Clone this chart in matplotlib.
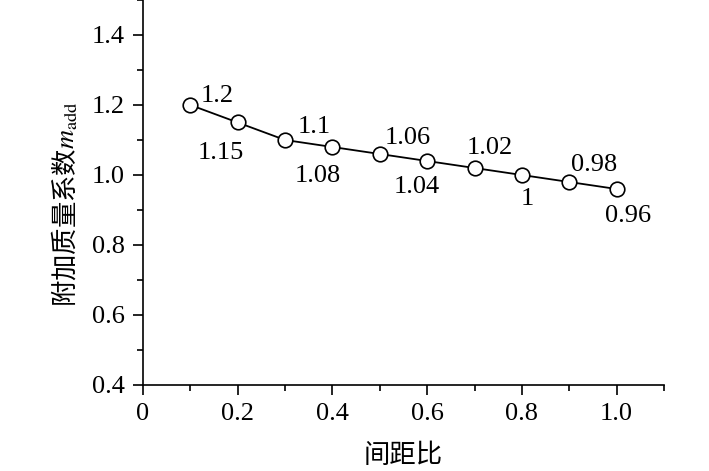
import matplotlib
matplotlib.use("Agg")
import matplotlib.pyplot as plt
from matplotlib.ticker import MultipleLocator

plt.rcParams["font.family"] = ["Liberation Serif", "Noto Sans CJK SC"]
plt.rcParams["mathtext.fontset"] = "stix"

spacing = [0.1, 0.2, 0.3, 0.4, 0.5, 0.6, 0.7, 0.8, 0.9, 1.0]
m_add = [1.20, 1.15, 1.10, 1.08, 1.06, 1.04, 1.02, 1.00, 0.98, 0.96]
labels = ["1.2", "1.15", "1.1", "1.08", "1.06", "1.04", "1.02", "1", "0.98", "0.96"]
# label offsets in pixels (left edge / baseline relative to the marker)
offsets = [(10, 3), (-40, -37), (13, 7), (-38, -35), (5, 10),
           (-34, -32), (-8, 14), (-1, -30), (2, 11), (-12, -33)]

fig = plt.figure(figsize=(7.09, 4.71), dpi=100)
ax = fig.add_axes([0.2017, 0.1826, 0.7348, 0.8174])

ax.plot(spacing, m_add, "-", color="black", lw=1.3, marker="o", ms=10.5,
        mfc="white", mec="black", mew=1.2)

for x, y, t, (dx, dy) in zip(spacing, m_add, labels, offsets):
    ax.annotate(t, (x, y), xytext=(dx, dy), textcoords="offset pixels",
                ha="left", va="baseline", fontsize=19)

ax.set_xlim(0, 1.1)
ax.set_ylim(0.4, 1.5)
ax.set_xticks([0, 0.2, 0.4, 0.6, 0.8, 1.0])
ax.set_xticklabels(["0", "0.2", "0.4", "0.6", "0.8", "1.0"])
ax.set_yticks([0.4, 0.6, 0.8, 1.0, 1.2, 1.4])
ax.xaxis.set_minor_locator(MultipleLocator(0.1))
ax.yaxis.set_minor_locator(MultipleLocator(0.1))
ax.tick_params(which="major", direction="out", length=7, width=1.2,
               labelsize=19, pad=6)
ax.tick_params(which="minor", direction="out", length=4, width=1.2)

for side in ["top", "right"]:
    ax.spines[side].set_visible(False)
for side in ["left", "bottom"]:
    ax.spines[side].set_linewidth(1.2)

ax.set_xlabel("间距比", fontsize=19, labelpad=12, family="Noto Sans CJK SC")
ax.set_ylabel("附加质量系数$m_{\\mathrm{add}}$", fontsize=19,
              family="Noto Sans CJK SC")
ax.yaxis.set_label_coords(-0.12, 0.47)

fig.savefig("out.png", dpi=100)
